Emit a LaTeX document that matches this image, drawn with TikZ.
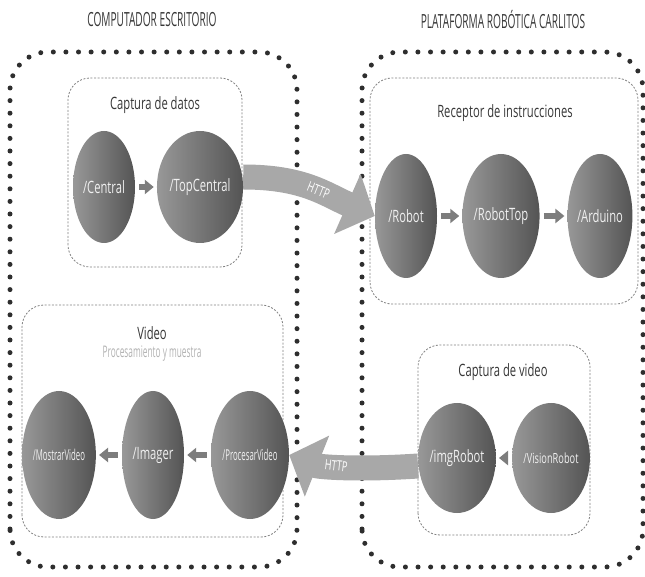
\documentclass[tikz,border=0pt]{standalone}
\usepackage{fontspec}
\setmainfont[FakeStretch=0.66]{Open Sans}
\newfontfamily\capsfont[FakeStretch=0.52]{Open Sans}
\newfontfamily\narrowfont[FakeStretch=0.52]{Open Sans}
\usetikzlibrary{arrows.meta,shapes.geometric}

\definecolor{ellL}{RGB}{152,152,152}
\definecolor{ellR}{RGB}{84,84,84}
\definecolor{ellT}{RGB}{240,240,240}
\definecolor{httpC}{RGB}{168,168,168}
\definecolor{stepC}{RGB}{125,125,125}
\definecolor{titleC}{RGB}{55,55,55}
\definecolor{subC}{RGB}{178,178,178}

\pgfdeclarelayer{boxes}
\pgfdeclarelayer{links}
\pgfsetlayers{boxes,links,main}

\tikzset{
  outerbox/.style={draw=black!82, line width=5pt, line cap=round,
    dash pattern=on 0pt off 12.6pt, rounded corners=38pt},
  innerbox/.style={draw=black!50, line width=0.8pt,
    dash pattern=on 2pt off 1.6pt, rounded corners=22pt},
  proc/.style={ellipse, minimum width=62pt, minimum height=116pt,
    inner sep=0pt, left color=ellL, right color=ellR, text=ellT,
    font=\fontsize{17}{20}\selectfont},
  procsmall/.style={proc, font=\narrowfont\fontsize{15}{18}\selectfont},
  steparrow/.style={draw=stepC, line width=6pt,
    -{Triangle[length=9pt,width=14pt]}, shorten <=4pt, shorten >=3pt},
  httparrow/.style={draw=httpC, line width=25pt,
    -{Triangle[length=30pt,width=64pt]}},
  httplabel/.style={text=white, font=\fontsize{14}{16}\selectfont},
  headline/.style={text=titleC, font=\capsfont\fontsize{19.5}{22}\selectfont},
  boxlabel/.style={text=titleC, font=\fontsize{17}{20}\selectfont},
  sublabel/.style={text=subC, font=\narrowfont\fontsize{16}{19}\selectfont}
}

\begin{document}
\begin{tikzpicture}[x=1pt,y=1pt]
\useasboundingbox (0,0) rectangle (645,576);

% headings
\node[headline] (hpc) at (152,556) {COMPUTADOR ESCRITORIO};
\node[headline] (hrb) at (503,556) {PLATAFORMA ROBÓTICA CARLITOS};

% group labels
\node[boxlabel] (lcd) at (155,471) {Captura de datos};
\node[boxlabel] (lri) at (505,463) {Receptor de instrucciones};
\node[boxlabel] (lvi) at (152,243) {Video};
\node[sublabel] (lps) at (152,222) {Procesamiento y muestra};
\node[boxlabel] (lcv) at (503,204) {Captura de video};

% processes
\node[proc, minimum height=112pt] (ce) at (104,389) {/Central};
\node[proc, minimum height=112pt] (tc) at (200,389) {/TopCentral};
\node[proc, minimum height=124pt] (rb) at (406,360) {/Robot};
\node[proc, minimum height=124pt] (rt) at (501,360) {/RobotTop};
\node[proc, minimum height=124pt] (ar) at (600,360) {/Arduino};
\node[procsmall, minimum height=128pt] (mv) at (59,121) {/MostrarVideo};
\node[proc, minimum height=128pt] (im) at (153,121) {/Imager};
\node[procsmall, minimum height=128pt] (pv) at (250,121) {/ProcesarVideo};
\node[proc, minimum height=110pt] (ir) at (457,118) {/imgRobot};
\node[proc, minimum height=110pt, font=\fontsize{14}{17}\selectfont] (vr) at (551,118) {/VisionRobot};

% containers
\begin{pgfonlayer}{boxes}
  \draw[outerbox] (10,9) rectangle (297,524);
  \draw[outerbox] (362,9) rectangle (643,524);
  \draw[innerbox] (68,309) rectangle (242,498);
  \draw[innerbox] (370,272) rectangle (638,498);
  \draw[innerbox] (22,39) rectangle (283,271);
  \draw[innerbox] (418,41) rectangle (590,231);
\end{pgfonlayer}

% message flow
\draw[steparrow] (ce) -- (tc);
\draw[steparrow] (rb) -- (rt);
\draw[steparrow] (rt) -- (ar);
\draw[steparrow] (im) -- (mv);
\draw[steparrow] (pv) -- (im);
\draw[steparrow] (vr) -- (ir);

\begin{pgfonlayer}{links}
  \draw[httparrow] ([yshift=10pt]tc.east) .. controls +(60,0) and +(-50,22) .. (rb.west)
    node[httplabel, pos=0.55, sloped] (h1) {HTTP};
  \draw[httparrow] ([yshift=-8pt]ir.west) .. controls +(-60,-4) and +(30,-12) .. (pv.east)
    node[httplabel, pos=0.55, sloped] (h2) {HTTP};
\end{pgfonlayer}
\end{tikzpicture}
\end{document}
